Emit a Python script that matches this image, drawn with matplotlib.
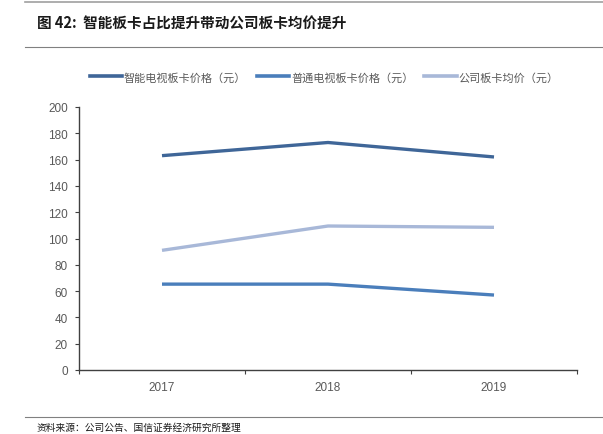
import matplotlib
matplotlib.use("Agg")
import matplotlib.pyplot as plt
from matplotlib.lines import Line2D

plt.rcParams['font.family'] = ['Liberation Sans', 'Noto Sans CJK SC', 'DejaVu Sans']

years = ["2017", "2018", "2019"]
smart_price = [163, 173, 162]
normal_price = [65.3, 65.3, 57]
avg_price = [91, 109.5, 108.5]
series_names = ["智能电视板卡价格（元）", "普通电视板卡价格（元）", "公司板卡均价（元）"]
colors = ["#3F6698", "#4A7EBB", "#A8B8D8"]

fig = plt.figure(figsize=(6.03, 4.35), dpi=100)
ax = fig.add_axes([79 / 603, 64 / 435, 498 / 603, 263 / 435])

x = list(range(len(years)))
for vals, c in zip([smart_price, normal_price, avg_price], colors):
    ax.plot(x, vals, color=c, linewidth=2.4, solid_capstyle="butt")

ax.set_xlim(-0.5, 2.5)
ax.set_ylim(0, 200)
ax.set_yticks(range(0, 201, 20))
ax.set_xticks([-0.5, 0.5, 1.5, 2.5])
ax.set_xticklabels([])
ax.set_xticks(x, minor=True)
ax.set_xticklabels(years, minor=True)
ax.tick_params(axis="x", which="minor", length=0, pad=8, labelsize=8.5, colors="#595959")
ax.tick_params(axis="x", which="major", length=3, direction="out", color="#404040")
ax.tick_params(axis="y", length=3, direction="out", labelsize=8.5, labelcolor="#595959", color="#404040", pad=5)
for s in ["top", "right"]:
    ax.spines[s].set_visible(False)
for s in ["left", "bottom"]:
    ax.spines[s].set_color("#404040")
    ax.spines[s].set_linewidth(1.0)

# legend at top
handles = [Line2D([0], [0], color=c, linewidth=2.6) for c in colors]
fig.legend(handles, series_names, loc="center", bbox_to_anchor=(324 / 603, 1 - 78 / 435),
           ncol=3, frameon=False, labelcolor="#595959",
           handlelength=2.9, handletextpad=0.15, columnspacing=1.0,
           prop={'family': ['Noto Sans CJK SC'], 'size': 8})

# header / footer rules and text
fig.add_artist(Line2D([25 / 603, 1], [1 - 3 / 435] * 2, color="#A0A0A0", linewidth=1.2))
fig.add_artist(Line2D([25 / 603, 1], [1 - 48 / 435] * 2, color="#808080", linewidth=0.8))
fig.add_artist(Line2D([25 / 603, 1], [1 - 418 / 435] * 2, color="#808080", linewidth=0.8))
fig.text(37 / 603, 1 - 24 / 435, "图 42:  智能板卡占比提升带动公司板卡均价提升",
         fontsize=10.5, fontweight="bold", va="center", ha="left", color="#1a1a1a",
         family=['Noto Sans CJK SC', 'DejaVu Sans'])
fig.text(37 / 603, 1 - 428 / 435, "资料来源：公司公告、国信证券经济研究所整理",
         fontsize=7, va="center", ha="left", color="#1a1a1a",
         family=['Noto Sans CJK SC', 'DejaVu Sans'])

fig.savefig("out.png", dpi=100)
